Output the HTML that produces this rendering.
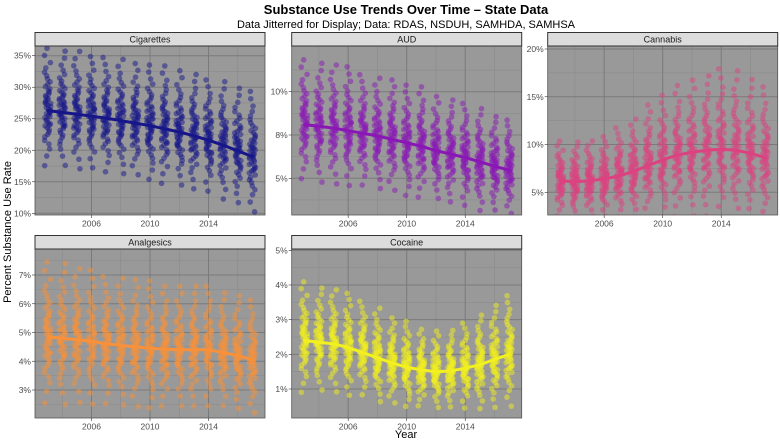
<!DOCTYPE html>
<html><head><meta charset="utf-8">
<style>
body{margin:0;background:#fff;}
svg{display:block;font-family:"Liberation Sans",Arial,sans-serif;}
</style></head>
<body>
<svg id="chart" width="780" height="441" viewBox="0 0 780 441">
<text x="406" y="14" text-anchor="middle" font-size="13" font-weight="bold" fill="#000">Substance Use Trends Over Time – State Data</text>
<text x="406" y="28" text-anchor="middle" font-size="11" fill="#000">Data Jitterred for Display; Data: RDAS, NSDUH, SAMHDA, SAMHSA</text>
<text transform="translate(11,232) rotate(-90)" text-anchor="middle" font-size="11" fill="#000">Percent Substance Use Rate</text>
<text x="406" y="438" text-anchor="middle" font-size="11" fill="#000">Year</text>
<g id="panels"></g>
</svg>
<script>
const years = [2003,2004,2005,2006,2007,2008,2009,2010,2011,2012,2013,2014,2015,2016,2017];
const xTicks = [2006,2010,2014];
// per-year state distribution (mean, sd) and smooth trend values, in percent
const cigMean = [26.3,26.1,25.8,25.5,25.1,24.8,24.4,23.9,23.5,23.0,22.4,21.8,21.0,20.2,19.2];
const cigSd   = [3.8,3.7,3.8,3.6,3.7,3.7,3.6,3.7,3.8,3.7,3.7,3.6,3.8,3.7,3.9];
const cigTrend= [26.3,26.0,25.7,25.4,25.1,24.7,24.3,23.9,23.4,22.9,22.3,21.6,20.8,19.9,19.0];
const audMean = [8.2,8.0,7.9,7.8,7.6,7.4,7.3,7.0,6.9,6.6,6.4,6.2,5.9,5.7,5.5];
const audSd   = [1.4,1.4,1.4,1.4,1.3,1.3,1.3,1.3,1.3,1.2,1.2,1.2,1.2,1.1,1.1];
const audTrend= [8.1,8.0,7.9,7.75,7.6,7.45,7.25,7.05,6.85,6.6,6.4,6.2,5.95,5.7,5.47];
const canMean = [6.2,6.1,6.2,6.4,6.8,7.2,7.9,8.4,8.9,9.2,9.4,9.6,9.4,9.0,8.5];
const canSd   = [1.6,1.6,1.6,1.7,1.9,2.1,2.4,2.6,2.8,2.9,3.0,3.2,3.2,3.0,2.9];
const canTrend= [6.2,6.1,6.2,6.4,6.7,7.2,7.8,8.4,8.9,9.2,9.4,9.5,9.4,9.1,8.6];
const anaMean = [4.85,4.8,4.75,4.7,4.6,4.55,4.5,4.45,4.4,4.4,4.4,4.4,4.3,4.2,4.05];
const anaSd   = [1.0,1.0,0.95,0.95,0.9,0.9,0.9,0.9,0.85,0.85,0.85,0.85,0.8,0.8,0.8];
const anaTrend= [4.85,4.8,4.75,4.7,4.6,4.55,4.5,4.45,4.42,4.4,4.4,4.4,4.3,4.2,4.05];
const cocMean = [2.4,2.35,2.3,2.2,2.1,1.9,1.75,1.65,1.55,1.5,1.52,1.6,1.7,1.85,2.0];
const cocSd   = [0.65,0.6,0.6,0.6,0.55,0.55,0.5,0.5,0.45,0.45,0.45,0.5,0.55,0.6,0.65];
const cocTrend= [2.4,2.35,2.3,2.2,2.05,1.9,1.75,1.63,1.55,1.5,1.52,1.6,1.7,1.85,2.0];
// fixed state profile (relative z-scores) and horizontal jitter
const stateZ = [-2.3,-1.9,-1.6,-1.4,-1.25,-1.1,-1.0,-0.9,-0.8,-0.72,-0.64,-0.56,-0.5,-0.43,-0.37,-0.3,-0.25,-0.19,-0.13,-0.08,-0.03,0.02,0.07,0.12,0.17,0.22,0.28,0.33,0.39,0.45,0.5,0.56,0.62,0.69,0.76,0.83,0.91,1.0,1.1,1.2,1.32,1.45,1.6,1.78,2.0,2.3,2.6,-0.6,0.3,-0.1];
const jitterX = [-0.2,0.09,-0.04,0.18,-0.13,0.05,-0.21,0.14,0.0,-0.09,0.2,-0.16,0.11,-0.06,0.21,-0.19,0.04,0.16,-0.11,0.07,-0.01,0.13,-0.2,0.19,-0.07,0.02,-0.14,0.17,-0.04,0.09,-0.17,0.06,0.21,-0.11,0.01,-0.21,0.14,-0.03,0.16,-0.09,0.04,-0.15,0.19,-0.06,0.11,-0.18,0.08,-0.01,0.15,-0.12];

const panels = [
 {name:'Cigarettes',mean:cigMean,sd:cigSd,trend:cigTrend,color:'#16168a',L:35,T:46,B:215,v1:35,p1:55.7,v2:10,p2:213.3,
  ticks:[10,15,20,25,30,35],labels:['10%','15%','20%','25%','30%','35%'],minor:[12.5,17.5,22.5,27.5,32.5]},
 {name:'AUD',mean:audMean,sd:audSd,trend:audTrend,color:'#8a17b5',L:291.7,T:46,B:215,v1:10,p1:91.7,v2:5,p2:178.3,
  ticks:[5,7.5,10],labels:['5%','8%','10%'],minor:[3.75,6.25,8.75,11.25]},
 {name:'Cannabis',mean:canMean,sd:canSd,trend:canTrend,color:'#dc4180',L:547.7,T:46,B:215,v1:20,p1:49,v2:5,p2:192.3,
  ticks:[5,10,15,20],labels:['5%','10%','15%','20%'],minor:[7.5,12.5,17.5]},
 {name:'Analgesics',mean:anaMean,sd:anaSd,trend:anaTrend,color:'#f8913a',L:35,T:249,B:418,v1:7,p1:275,v2:3,p2:390,
  ticks:[3,4,5,6,7],labels:['3%','4%','5%','6%','7%'],minor:[2.5,3.5,4.5,5.5,6.5,7.5]},
 {name:'Cocaine',mean:cocMean,sd:cocSd,trend:cocTrend,color:'#f2f01e',L:291.7,T:249,B:418,v1:5,p1:250.3,v2:1,p2:389,
  ticks:[1,2,3,4,5],labels:['1%','2%','3%','4%','5%'],minor:[1.5,2.5,3.5,4.5]}
];
const W = 230;
const NS = 'http://www.w3.org/2000/svg';
const root = document.getElementById('panels');
function mk(tag, attrs, parent){const e=document.createElementNS(NS,tag);for(const k in attrs)e.setAttribute(k,attrs[k]);parent.appendChild(e);return e;}

panels.forEach(p=>{
  const slug = p.name.toLowerCase();
  const xs = yr => p.L + 12.6 + (yr-2003)*14.63;
  const ys = v => p.p1 + (v-p.v1)*(p.p2-p.p1)/(p.v2-p.v1);
  const g = mk('g',{},root);
  
  
  const clipId='clip-'+slug;
  const cp = mk('clipPath',{id:clipId},g);
  mk('rect',{x:p.L,y:p.T,width:W,height:p.B-p.T},cp);
  const bg = mk('rect',{x:p.L,y:p.T,width:W,height:p.B-p.T,fill:'#999999'},g);
  
  
  const grid = mk('g',{'clip-path':'url(#'+clipId+')'},g);
  p.minor.forEach(v=>mk('line',{x1:p.L,x2:p.L+W,y1:ys(v),y2:ys(v),stroke:'#8a8a8a','stroke-width':0.6},grid));
  [2004,2008,2012,2016].forEach(yr=>mk('line',{x1:xs(yr),x2:xs(yr),y1:p.T,y2:p.B,stroke:'#8a8a8a','stroke-width':0.6},grid));
  p.ticks.forEach(v=>mk('line',{x1:p.L,x2:p.L+W,y1:ys(v),y2:ys(v),stroke:'#7a7a7a','stroke-width':1},grid));
  xTicks.forEach(yr=>mk('line',{x1:xs(yr),x2:xs(yr),y1:p.T,y2:p.B,stroke:'#7a7a7a','stroke-width':1},grid));
  const pts = mk('g',{'clip-path':'url(#'+clipId+')'},g);
  years.forEach((yr,i)=>{
    stateZ.forEach((z,s)=>{
      const v = p.mean[i] + p.sd[i]*stateZ[(s*7+i*3)%stateZ.length];
      const jx = jitterX[(s+i*11)%jitterX.length];
      const c = mk('circle',{cx:xs(yr+jx),cy:ys(v),r:2.8,fill:p.color,'fill-opacity':0.5},pts);
      
      
    });
  });
  const d = years.map((yr,i)=>(i?'L':'M')+xs(yr).toFixed(1)+','+ys(p.trend[i]).toFixed(1)).join(' ');
  const ln = mk('path',{d:d,fill:'none',stroke:p.color,'stroke-width':3,'stroke-linejoin':'round','stroke-linecap':'round'},g);
  
  
  mk('rect',{x:p.L,y:p.T,width:W,height:p.B-p.T,fill:'none',stroke:'#555','stroke-width':0.8},g);
  const st = mk('rect',{x:p.L,y:p.T-13.5,width:W,height:13.5,fill:'#dcdcdc',stroke:'#333','stroke-width':1},g);
  
  
  const stt = mk('text',{x:p.L+W/2,y:p.T-3.5,'text-anchor':'middle','font-size':9,fill:'#1a1a1a'},g);
  stt.textContent = p.name;
  
  
  p.ticks.forEach((v,k)=>{
    mk('line',{x1:p.L-3,x2:p.L,y1:ys(v),y2:ys(v),stroke:'#333','stroke-width':0.6},g);
    const t = mk('text',{x:p.L-4,y:ys(v)+3,'text-anchor':'end','font-size':8.5,fill:'#4d4d4d'},g);
    t.textContent = p.labels[k];
    
    
  });
  xTicks.forEach(yr=>{
    mk('line',{x1:xs(yr),x2:xs(yr),y1:p.B,y2:p.B+3,stroke:'#333','stroke-width':0.6},g);
    const t = mk('text',{x:xs(yr),y:p.B+11.5,'text-anchor':'middle','font-size':8.5,fill:'#4d4d4d'},g);
    t.textContent = String(yr);
    
    
  });
});
</script>
</body></html>
